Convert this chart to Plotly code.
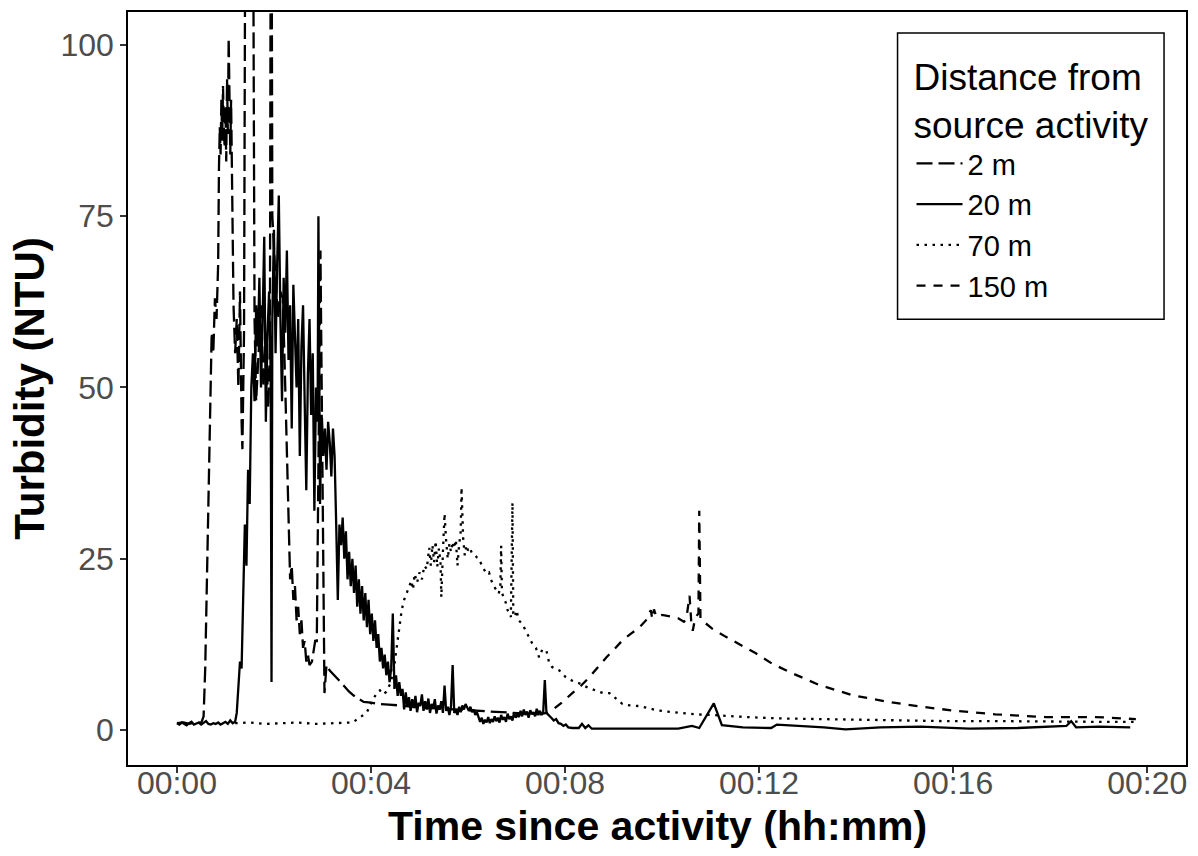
import plotly.graph_objects as go

# ---------------- data (time in seconds since activity, turbidity in NTU) ----------------
t_2m = [0, 8, 16, 24, 30, 33, 35, 37, 39, 41, 43, 45, 47, 49, 51, 52, 53, 54, 55, 56, 57, 58, 59, 60,
        61, 62, 63, 64, 65, 66, 67, 68, 70, 72, 74, 76, 78, 80, 81, 83, 85, 87, 89, 92, 94, 96, 98,
        101, 104, 107, 110, 113, 115, 116.5, 118, 121, 125, 128, 131, 134, 137, 140, 142, 144, 146,
        148, 150, 152, 154, 156, 158, 160, 162, 164, 167, 171, 173, 177.5, 182.5, 185, 189, 195,
        201, 207, 213, 219, 225, 231, 240, 250, 262, 275, 300, 330, 360, 400, 448]
v_2m = [1.0, 1.1, 0.9, 1.2, 1.0, 2.0, 9, 22, 36, 48, 58, 55, 63, 60, 68, 82, 88, 84, 92, 86, 94, 88, 85, 91,
        83, 95, 87, 101, 90, 84, 92, 80, 62, 55, 60, 50, 64, 45, 41, 58, 140, 120, 150, 160, 130, 60, 48,
        55, 62, 50, 58, 47, 56, 150, 75, 68, 60, 64, 63, 50, 35, 22, 24, 19, 21,
        16, 18, 14, 16, 12, 13, 10, 11, 9.5, 10, 13, 13, 70, 5.4, 9.5, 8.7, 8.0,
        7.2, 6.4, 5.6, 5.0, 4.5, 4.1, 4.0, 3.8, 3.7, 3.6, 3.3, 3.1, 2.9, 2.6, 2.3]

t_20m = [0, 3, 6, 9, 12, 15, 18, 21, 24, 27, 30, 33, 36, 39, 42, 45, 48, 51, 54, 57, 60, 63, 66, 69, 72,
         74, 76, 78, 80, 82, 84, 86, 88, 90, 92, 94,
         96, 98, 100, 102, 104, 106, 108, 110, 112, 114, 116, 117, 118, 120, 122, 124, 126, 128, 130,
         132, 134, 136, 138, 140, 142, 144, 146, 148, 150, 152, 154, 156, 158, 160, 162, 164, 166,
         168, 170, 172, 174, 175, 177,
         179, 181, 183, 185, 187, 189, 191, 193, 195, 197,
         199, 201, 203, 205, 207, 209, 211, 213, 215, 217,
         219, 221, 223, 225, 227, 229, 231, 233, 235, 237, 239, 241, 243, 245, 247, 249, 251,
         253, 255, 257, 259, 261, 263, 265, 267, 269, 271, 273, 275, 277, 279,
         281, 283, 285, 287, 289, 291, 293, 295, 297, 299, 301, 303, 305, 307, 309, 311, 313, 315,
         317, 319, 321, 323, 325, 327, 329, 331, 333, 335, 337, 339,
         341,
         343, 345, 347, 349, 351, 353, 355, 357, 359, 361, 363, 365, 367, 369, 371, 373,
         375, 377, 379, 381, 383, 385, 387, 389, 391, 393, 395, 397, 399, 401, 403, 405, 407, 409,
         411, 413, 415, 417, 419, 421, 423, 425, 427, 429, 431, 433, 435, 437, 439, 441, 443, 445,
         447, 449, 451, 453,
         455,
         457, 460, 463, 466, 469, 472, 475, 478, 481, 484, 489, 497, 501, 505, 509, 513, 540, 580,
         620, 637, 646, 664, 674, 700, 735, 742, 757, 800, 827, 870, 920, 980, 1040, 1080, 1100,
         1106, 1112, 1140, 1179]
v_20m = [1.0, 0.8, 1.1, 0.9, 0.7, 1.0, 1.2, 0.8, 0.9, 1.1, 0.8, 1.0, 1.3, 0.9, 0.8, 1.0, 0.9, 1.1, 0.8,
         1.0, 1.2, 0.9, 1.4, 1.0, 1.2,
         2.5, 6, 10, 9, 20, 30, 24, 38, 33, 50, 55,
         48, 62, 56, 66, 50, 60, 72, 45, 58, 64, 52, 7, 60, 73, 55, 68, 78, 60, 48,
         66, 58, 70, 54, 62, 44, 65, 58, 50, 60, 40, 56, 62, 48, 35, 52, 60, 46,
         55, 32, 50, 45, 75, 33,
         46, 40, 44, 38, 45, 42, 37, 44, 40, 30,
         19, 30, 27, 31, 25, 29, 22, 26, 21, 25,
         20, 24, 18, 22, 17, 21, 16, 20, 15, 19, 14, 17, 13, 16, 12, 14, 10,
         12, 9, 11, 8, 10, 7, 9, 17, 6, 8, 5, 7, 5, 6,
         3, 5.5, 3.5, 4.8, 2.8, 4.5, 3.2, 5, 2.6, 4, 3.5, 5.2, 2.8, 4.2, 3, 4.6, 2.5, 3.8,
         3.2, 4.5, 2.4, 3.6, 3, 4.2, 2.5, 6.5, 2.8, 3.4, 2.2, 3.5,
         9.5,
         2.5, 3, 2.2, 3.4, 2.6, 3.6, 3.0, 3.8, 3.2, 2.8, 3.4, 2.6, 3.0, 2.2, 2.6, 1.8,
         1.2, 1.8, 0.9, 1.5, 1.1, 1.9, 1.0, 1.6, 1.2, 2.0, 1.3, 1.8, 1.1, 2.2, 1.5, 1.9, 1.2, 2.4,
         1.6, 2.0, 1.4, 2.6, 1.8, 2.3, 1.9, 2.8, 2.0, 3.0, 2.2, 2.7, 1.8, 2.9, 2.3, 2.6, 2.0, 3.1,
         2.4, 2.8, 2.2, 2.6,
         7.3,
         2.5, 2.2, 1.8, 1.4, 1.6, 1.0, 0.9, 0.6, 0.8, 0.4, 0.3, 0.3, 0.9, 0.3, 0.7, 0.2, 0.2, 0.1,
         0.2, 0.6, 0.3, 3.9, 0.7, 0.4, 0.3, 0.8, 0.7, 0.4, 0.1, 0.4, 0.5, 0.2, 0.3, 0.5, 0.6,
         1.3, 0.4, 0.5, 0.4]

t_70m = [72, 90, 110, 130, 150, 170, 190, 210, 217, 226, 235, 242, 248, 251, 255, 259, 264, 268, 272,
         274, 276, 278, 281, 284, 287, 290, 292, 294, 297, 300, 303, 306, 309, 312, 314, 316, 318,
         320, 322, 324, 326, 327, 329, 331, 333, 335, 337, 339, 341, 343, 345, 347, 349, 351, 352,
         354, 356, 358, 360, 362, 365, 368, 371, 374, 377, 380, 383, 386, 389, 392, 395, 398, 400,
         401, 402, 404, 407, 409, 411, 413, 415, 416, 418, 420, 423, 427, 431, 436, 440, 444, 448,
         452, 457, 460, 464, 468, 473, 477, 481, 489, 498, 508, 519, 527, 535, 543, 551, 560, 572,
         583, 593, 607, 621, 640, 662, 683, 704, 744, 790, 831, 900, 954, 1020, 1078, 1140, 1189]
v_70m = [1.0, 1.1, 0.9, 1.0, 1.1, 0.9, 1.0, 1.0, 1.1, 1.8, 2.6, 4.4, 5.5, 5.8, 5.2, 5.6, 6.8, 8.7, 12,
         14, 16, 17.5, 19, 20, 21, 21.8, 20.5, 22.8, 21.5, 23, 22, 24, 23.5, 26.6, 24, 27, 24.5,
         27.6, 23.8, 26.5, 24.5, 19.4, 26, 31.6, 27.5, 25, 27.2, 26, 27.5, 26.5, 27.8, 24, 27, 29, 35.4,
         28, 25.5, 27, 26.2, 26.6, 25.8, 25.6, 25.2, 25.0, 24.0, 23.4, 22.8, 23.0, 21.8, 21.0, 20.5, 19.9, 21,
         26.9, 20, 19.5, 18.5, 17.5, 17, 16.5, 33.2, 17, 16.5, 17.5, 16, 15.5, 14.6, 13.5, 12.5, 12, 10.6,
         11.8, 11.6, 10, 9.2, 9.0, 8.7, 8.2, 7.7, 7.2, 6.8, 6.2, 5.8, 5.4, 5.4, 4.6, 3.8, 3.6, 3.5,
         3.2, 2.9, 2.7, 2.5, 2.3, 2.2, 2.0, 1.9, 1.7, 1.6, 1.5, 1.4, 1.3, 1.3, 1.2, 1.2, 1.2]

t_150m = [448, 457, 464, 476, 489, 500, 510, 520, 531, 541, 551, 562, 572, 580, 586, 588, 590, 593, 600,
          610, 620, 627, 630, 634, 636, 638, 641, 645, 646, 647.5, 652, 662, 679, 695, 716, 736, 757,
          794, 835, 880, 921, 963, 1012, 1074, 1136, 1186]
v_150m = [2.3, 2.5, 2.9, 4.0, 5.4, 6.5, 7.7, 9.1, 10.6, 11.8, 13.1, 14.1, 15.0, 16.0, 17.5, 16.2, 17.6, 16.5,
          16.8, 16.6, 16.3, 15.8, 16.2, 19.6, 16.0, 14.5, 16.4, 17.0, 32.0, 16.2, 15.8, 14.8, 13.6, 12.6,
          11.2, 9.7, 8.5, 6.6, 5.1, 4.1, 3.4, 2.8, 2.3, 1.9, 1.9, 1.6]

series_names = ["2 m", "20 m", "70 m", "150 m"]
x_tick_vals = [0, 240, 480, 720, 960, 1200]
x_tick_text = ["00:00", "00:04", "00:08", "00:12", "00:16", "00:20"]
y_tick_vals = [0, 25, 50, 75, 100]

# ---------------- figure ----------------
FONT = "Liberation Sans, Arial, sans-serif"
styles = [
    dict(color="black", width=2.3, dash="16px,6px"),
    dict(color="black", width=2.3, dash="solid"),
    dict(color="black", width=2.3, dash="2.5px,5.5px"),
    dict(color="black", width=2.3, dash="9px,8px"),
]
data = [(t_2m, v_2m), (t_20m, v_20m), (t_70m, v_70m), (t_150m, v_150m)]

fig = go.Figure()
for name, (tx, vy), st in zip(series_names, data, styles):
    fig.add_trace(go.Scatter(x=tx, y=vy, mode="lines", name=name, line=st))

W, H = 1198, 856
ML, MR, MT, MB = 128, 10, 10, 91
PW, PH = W - ML - MR, H - MT - MB


def px_to_paper_x(px):
    return (px - ML) / PW


def px_to_paper_y(py):
    return (H - MB - py) / PH


fig.update_layout(
    width=W, height=H,
    margin=dict(l=ML, r=MR, t=MT, b=MB),
    paper_bgcolor="white", plot_bgcolor="white",
    font=dict(family=FONT, color="black"),
    showlegend=True,
    legend=dict(
        x=px_to_paper_x(913), y=px_to_paper_y(40), xanchor="left", yanchor="top",
        bgcolor="rgba(0,0,0,0)", borderwidth=0,
        title=dict(text="Distance from<br>source activity", font=dict(size=37, family=FONT, color="black")),
        font=dict(size=29, family=FONT, color="black"),
        itemwidth=46,
        tracegroupgap=0,
    ),
    shapes=[dict(
        type="rect", xref="paper", yref="paper",
        x0=px_to_paper_x(899), x1=px_to_paper_x(1166),
        y0=px_to_paper_y(318), y1=px_to_paper_y(31),
        line=dict(color="black", width=1.5), fillcolor="rgba(0,0,0,0)", layer="below",
    )],
    annotations=[dict(
        text="<b>Time since activity (hh:mm)</b>", xref="paper", yref="paper",
        x=0.5, y=px_to_paper_y(826), xanchor="center", yanchor="middle", showarrow=False,
        font=dict(size=41, family=FONT, color="black"),
    )],
)
fig.update_xaxes(
    range=[-60.5, 1248],
    tickmode="array", tickvals=x_tick_vals, ticktext=x_tick_text,
    ticks="outside", ticklen=6, tickwidth=1.5, tickcolor="#333333",
    tickfont=dict(size=32, color="#4D4D4D", family=FONT),
    ticklabelstandoff=-17,
    showline=True, mirror=True, linecolor="black", linewidth=1.5,
    showgrid=False, zeroline=False,
)
fig.update_yaxes(
    range=[-5.1, 104.8],
    tickmode="array", tickvals=y_tick_vals,
    ticks="outside", ticklen=6, tickwidth=1.5, tickcolor="#333333",
    tickfont=dict(size=32, color="#4D4D4D", family=FONT),
    showline=True, mirror=True, linecolor="black", linewidth=1.5,
    showgrid=False, zeroline=False,
    title=dict(text="<b>Turbidity (NTU)</b>", font=dict(size=42, family=FONT, color="black"), standoff=3),
)

fig.write_html("out.html")
